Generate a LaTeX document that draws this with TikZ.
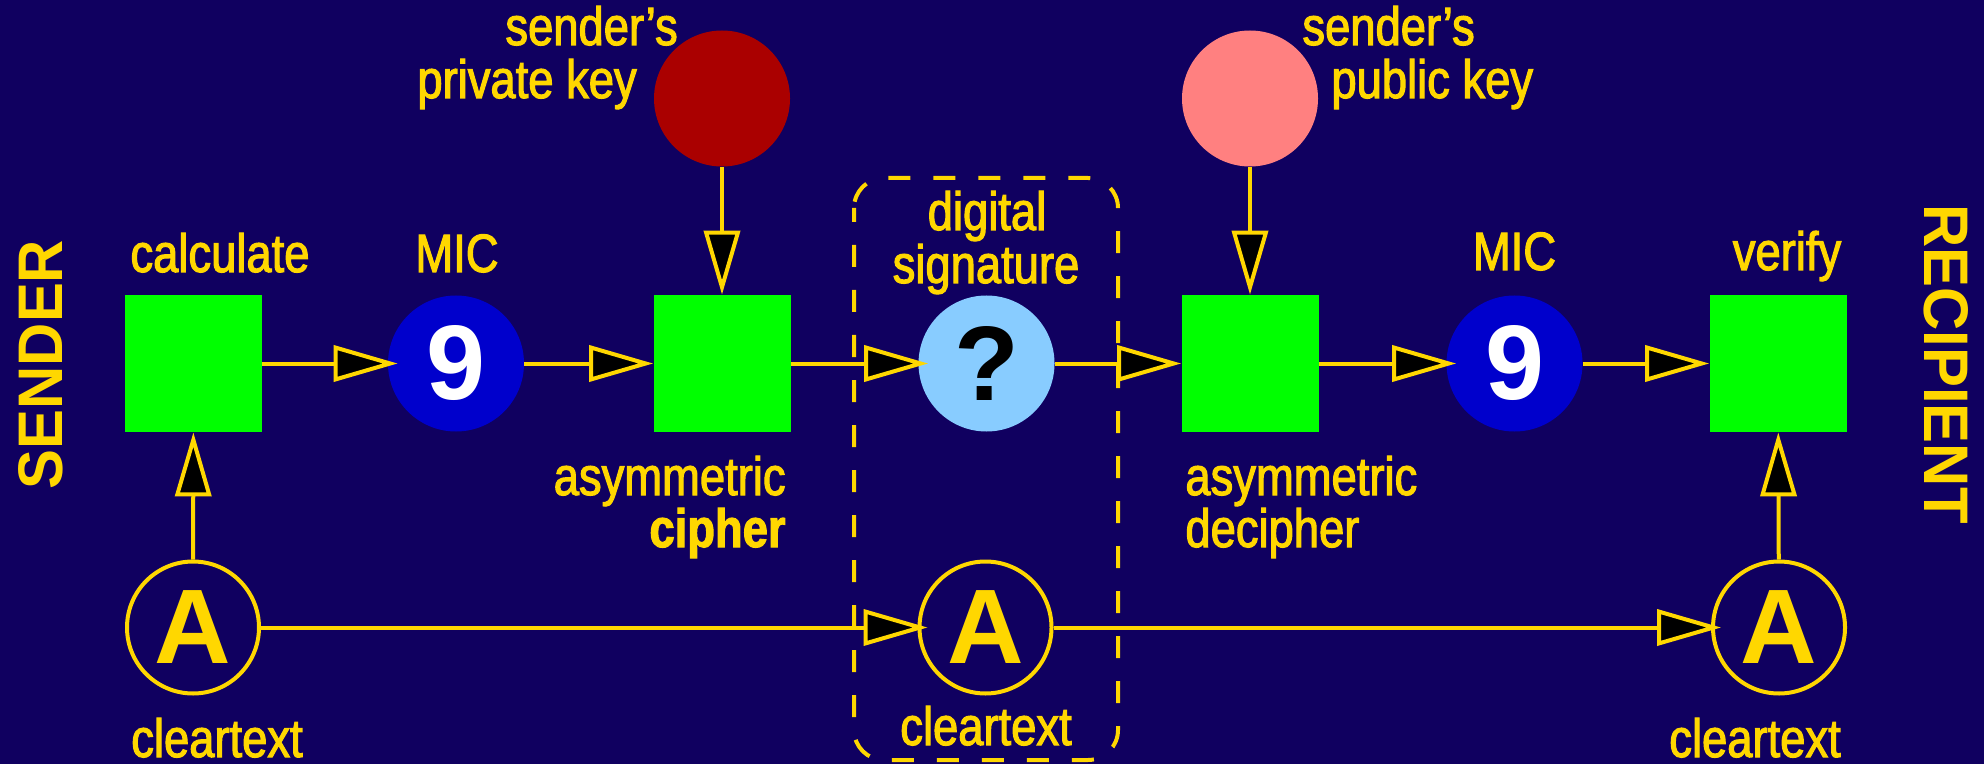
\documentclass[tikz,border=0pt]{standalone}
\usepackage{fontspec}
\setmainfont{Liberation Sans}
\newfontfamily\narrowfont[FakeStretch=0.84,FakeBold=2]{Liberation Sans}
\newfontfamily\bigfont[FakeStretch=0.95]{Liberation Sans}
\usetikzlibrary{arrows.meta}
\definecolor{bg}{RGB}{16,0,96}
\definecolor{gold}{RGB}{255,215,0}
\definecolor{grn}{RGB}{0,255,0}
\definecolor{mblue}{RGB}{0,0,204}
\definecolor{lblue}{RGB}{136,204,255}
\definecolor{dred}{RGB}{170,0,0}
\definecolor{pinkkey}{RGB}{255,128,128}
\tikzset{
  lbl/.style={text=gold, inner sep=0pt, font=\narrowfont\fontsize{27}{26.5}\selectfont},
  side/.style={text=gold, inner sep=0pt, font=\bigfont\bfseries\fontsize{31.5}{32}\selectfont},
  stepbox/.style={fill=grn, draw=none, minimum width=68.5pt, minimum height=68.5pt, inner sep=0pt},
  disc/.style={circle, draw=none, minimum size=68pt, inner sep=0pt, font=\bfseries\fontsize{53}{53}\selectfont},
  ring/.style={circle, draw=gold, line width=2pt, minimum size=66pt, inner sep=0pt, text=gold, font=\bfseries\fontsize{53}{53}\selectfont},
  conn/.style={draw=gold, line width=2pt, -{Triangle[length=32pt,width=18pt,fill=black]}},
  tocircle/.style={shorten >=-5pt},
  sigbox/.style={draw=gold, line width=2pt, rounded corners=15pt, dash pattern=on 11pt off 11.5pt, dash phase=4pt}
}
\begin{document}
\begin{tikzpicture}[x=0.5pt,y=-0.5pt]
\fill[bg] (0,0) rectangle (1984,764);
\useasboundingbox (0,0) rectangle (1984,764);

% dashed digital signature frame
\draw[sigbox] (854,178) rectangle (1118,760);

% boxes
\node[stepbox] (calc) at (193.5,363.5) {};
\node[stepbox] (ciph) at (722,363.5) {};
\node[stepbox] (deciph) at (1250,363.5) {};
\node[stepbox] (verify) at (1778,363.5) {};

% discs
\node[disc, fill=mblue, text=white] (mic1) at (456,363.5) {9};
\node[disc, fill=lblue, text=black] (sig) at (986.5,363.5) {?};
\node[disc, fill=mblue, text=white] (mic2) at (1514.5,363.5) {9};
\node[disc, fill=dred] (priv) at (722,98.5) {};
\node[disc, fill=pinkkey] (pub) at (1250,98.5) {};

% cleartext rings
\node[ring] (a1) at (193,627.5) {A};
\node[ring] (a2) at (985.5,627.5) {A};
\node[ring] (a3) at (1779,627.5) {A};

% connectors
\draw[conn, tocircle] (calc) -- (mic1);
\draw[conn] (mic1) -- (ciph);
\draw[conn, tocircle] (ciph) -- (sig);
\draw[conn] (sig) -- (deciph);
\draw[conn, tocircle] (deciph) -- (mic2);
\draw[conn] (mic2) -- (verify);
\draw[conn] (priv) -- (ciph);
\draw[conn] (pub) -- (deciph);
\draw[conn] (a1) -- (calc);
\draw[conn] (a3) -- (verify);
\draw[conn, tocircle] (a1) -- (a2);
\draw[conn, tocircle] (a2) -- (a3);

% labels
\node[lbl, anchor=base west] (l1) at (505,45) {sender’s};
\node[lbl, anchor=base west] (l2) at (417,98) {private key};
\node[lbl, anchor=base west] (l3) at (1302,45) {sender’s};
\node[lbl, anchor=base west] (l4) at (1331,98) {public key};
\node[lbl, anchor=base] (l5) at (220,272) {calculate};
\node[lbl, anchor=base] (l6) at (457,272) {MIC};
\node[lbl, anchor=base] (l7) at (987,230) {digital};
\node[lbl, anchor=base] (l8) at (986,283) {signature};
\node[lbl, anchor=base] (l9) at (1514.5,270) {MIC};
\node[lbl, anchor=base] (l10) at (1787,270) {verify};
\node[lbl, anchor=base east] (l11) at (786,495) {asymmetric};
\node[lbl, anchor=base east, font=\narrowfont\bfseries\fontsize{27}{26.5}\selectfont] (l12) at (786,547) {cipher};
\node[lbl, anchor=base west] (l13) at (1185,495) {asymmetric};
\node[lbl, anchor=base west] (l14) at (1185,547) {decipher};
\node[lbl, anchor=base] (l15) at (217,757) {cleartext};
\node[lbl, anchor=base] (l16) at (986,745) {cleartext};
\node[lbl, anchor=base] (l17) at (1755,757) {cleartext};

% side titles
\node[side, anchor=base, rotate=90] (sender) at (62,364.5) {SENDER};
\node[side, anchor=base, rotate=-90] (recip) at (1924,364) {RECIPIENT};
\end{tikzpicture}
\end{document}
